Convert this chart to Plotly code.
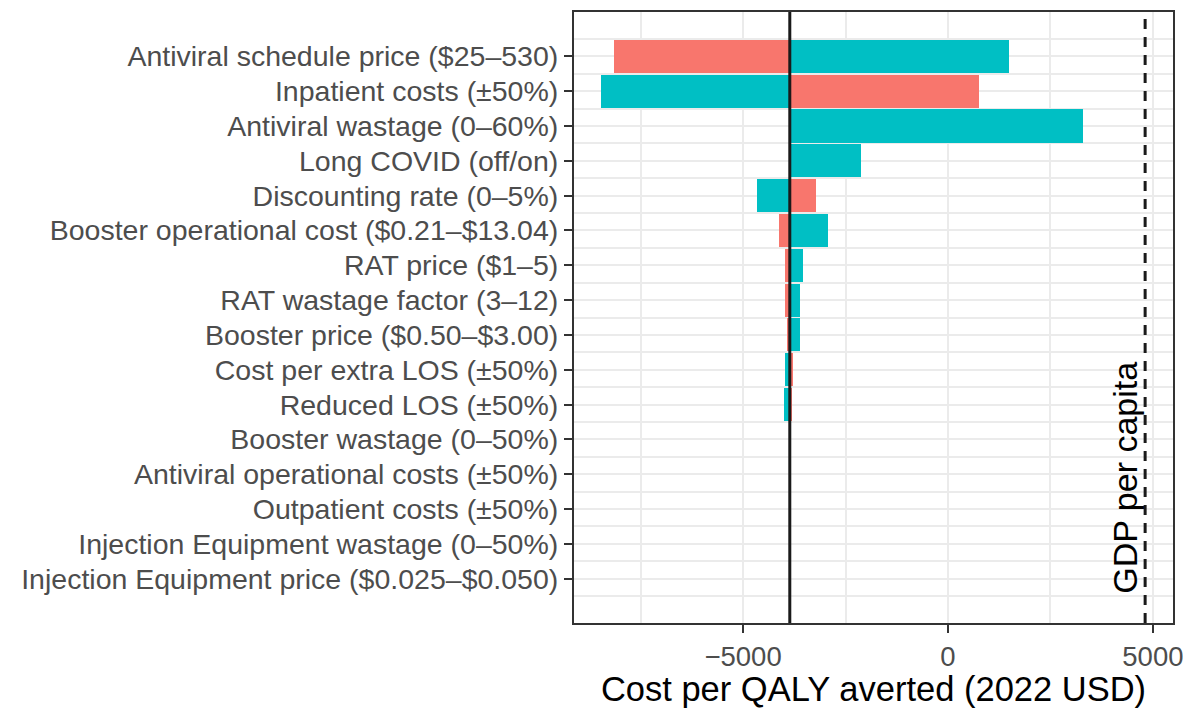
import plotly.graph_objects as go

params = [
    "Antiviral schedule price ($25–530)",
    "Inpatient costs (±50%)",
    "Antiviral wastage (0–60%)",
    "Long COVID (off/on)",
    "Discounting rate (0–5%)",
    "Booster operational cost ($0.21–$13.04)",
    "RAT price ($1–5)",
    "RAT wastage factor (3–12)",
    "Booster price ($0.50–$3.00)",
    "Cost per extra LOS (±50%)",
    "Reduced LOS (±50%)",
    "Booster wastage (0–50%)",
    "Antiviral operational costs (±50%)",
    "Outpatient costs (±50%)",
    "Injection Equipment wastage (0–50%)",
    "Injection Equipment price ($0.025–$0.050)",
]
base_icer = -3860
gdp_per_capita = 4810
low_values = [-8150, 752, -3860, -3860, -3219, -4115, -3976, -3976, -3930, -3780, -3812,
              -3850, -3855, -3856, -3858, -3859]
high_values = [1495, -8476, 3305, -2124, -4648, -2920, -3544, -3610, -3610, -3976, -3993,
               -3870, -3865, -3864, -3862, -3861]
x_ticks = [-5000, 0, 5000]

rows = list(range(len(params)))
RED = "#F8766D"
TEAL = "#00BFC4"
FONT = "Liberation Sans, Arial, Helvetica, sans-serif"

fig = go.Figure()
fig.add_trace(go.Bar(
    y=rows, x=[v - base_icer for v in low_values], base=base_icer,
    orientation="h", marker=dict(color=RED, line=dict(width=0)), width=0.95,
    name="Low", showlegend=False,
))
fig.add_trace(go.Bar(
    y=rows, x=[v - base_icer for v in high_values], base=base_icer,
    orientation="h", marker=dict(color=TEAL, line=dict(width=0)), width=0.95,
    name="High", showlegend=False,
))

fig.add_vline(x=base_icer, line=dict(color="#1a1a1a", width=3))
fig.add_vline(x=gdp_per_capita, line=dict(color="#1a1a1a", width=3, dash="10px,8px"))
fig.add_annotation(
    x=gdp_per_capita, xref="x", y=0.045, yref="paper",
    text="GDP per capita", textangle=-90, showarrow=False,
    xanchor="right", yanchor="bottom",
    font=dict(family=FONT, size=34, color="black"),
)

n = len(params)
pad = 0.475 + 0.05 * (n - 1 + 0.95)
fig.update_layout(
    width=1183, height=708,
    margin=dict(l=574, r=10, t=12, b=85),
    plot_bgcolor="white", paper_bgcolor="white",
    barmode="overlay", bargap=0,
    font=dict(family=FONT),
    xaxis=dict(
        range=[-9125, 5490], tickvals=x_ticks,
        ticktext=["−5000", "0", "5000"],
        showgrid=True, gridcolor="#EBEBEB", gridwidth=2,
        minor=dict(tickmode="linear", tick0=-7500, dtick=5000, showgrid=True,
                   gridcolor="#EBEBEB", gridwidth=1.5, ticklen=0),
        showline=True, mirror=True, linecolor="#333333", linewidth=2,
        ticks="outside", ticklen=8, tickwidth=2, tickcolor="#333333",
        tickfont=dict(family=FONT, size=27.5, color="#4D4D4D"),
        ticklabeloverflow="allow",
        title=dict(text="Cost per QALY averted (2022 USD)",
                   font=dict(family=FONT, size=34.5, color="black"), standoff=2),
        zeroline=False, automargin=False,
    ),
    yaxis=dict(
        range=[n - 1 + pad, -pad], tickvals=rows, ticktext=params,
        showgrid=True, gridcolor="#EBEBEB", gridwidth=2,
        minor=dict(tickmode="linear", tick0=0.5, dtick=1, showgrid=True,
                   gridcolor="#EBEBEB", gridwidth=1.5, ticklen=0),
        showline=True, mirror=True, linecolor="#333333", linewidth=2,
        ticks="outside", ticklen=8, tickwidth=2, tickcolor="#333333",
        tickfont=dict(family=FONT, size=28.5, color="#4D4D4D"),
        zeroline=False, automargin=False,
    ),
)

fig.write_html(
    "out.html",
    config={"displayModeBar": False},
    post_script="document.body.style.margin='0';document.body.style.overflow='hidden';",
)
